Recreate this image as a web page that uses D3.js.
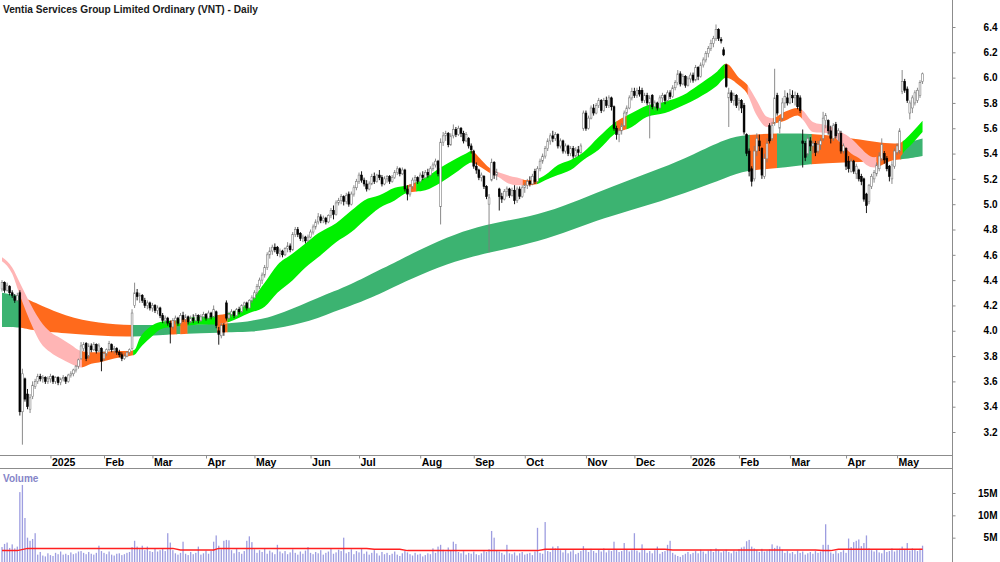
<!DOCTYPE html>
<html lang="en">
<head>
  <meta charset="UTF-8">
  <title>VNT - Daily</title>
  <script src="https://d3js.org/d3.v7.min.js"></script>
  <style>
    body { margin: 0; background: #fff; }
    svg { display: block; }
  </style>
</head>
<body>
  <div class="canvas"></div>
  <script>
    // daily bars, Dec 2024 -> May 2026 (one value per trading day)
    const opens = [
      4.33,4.38,4.32,4.35,4.30,4.27,4.24,4.30,3.36,3.62,
      3.50,3.38,3.48,3.56,3.60,3.64,3.62,3.63,3.60,3.62,
      3.64,3.60,3.63,3.59,3.62,3.63,3.60,3.65,3.66,3.69,
      3.72,3.78,3.86,3.90,3.80,3.88,3.85,3.89,3.84,3.86,
      3.78,3.82,3.85,3.89,3.85,3.86,3.83,3.81,3.78,3.80,
      3.83,3.86,4.20,4.30,4.27,4.28,4.24,4.20,4.22,4.18,
      4.20,4.16,4.18,4.12,4.08,4.10,4.06,4.03,4.08,4.10,
      4.06,4.12,4.09,4.11,4.07,4.10,4.08,4.12,4.08,4.11,
      4.13,4.10,4.14,4.11,4.15,4.00,3.96,4.04,4.22,4.10,
      4.13,4.15,4.12,4.17,4.15,4.20,4.22,4.18,4.24,4.26,
      4.30,4.35,4.40,4.44,4.50,4.60,4.63,4.66,4.66,4.61,
      4.63,4.60,4.65,4.67,4.64,4.76,4.80,4.77,4.73,4.74,
      4.71,4.74,4.78,4.82,4.86,4.90,4.87,4.89,4.86,4.91,
      4.95,4.92,5.01,5.03,5.06,5.02,5.08,5.00,5.08,5.13,
      5.18,5.23,5.19,5.16,5.12,5.16,5.22,5.18,5.23,5.21,
      5.16,5.20,5.22,5.18,5.21,5.25,5.28,5.24,5.27,5.12,
      5.08,5.14,5.19,5.21,5.18,5.23,5.21,5.25,5.23,5.28,
      5.31,5.34,4.98,5.49,5.54,5.56,5.47,5.54,5.59,5.55,
      5.60,5.56,5.50,5.52,5.46,5.42,5.30,5.27,5.21,5.22,
      5.14,5.00,5.19,5.33,5.23,5.12,5.06,5.04,5.10,5.12,
      5.07,5.11,5.03,5.12,5.06,5.13,5.15,5.18,5.16,5.26,
      5.18,5.28,5.34,5.38,5.44,5.50,5.54,5.52,5.55,5.46,
      5.50,5.42,5.46,5.40,5.44,5.38,5.43,5.41,5.60,5.72,
      5.60,5.68,5.76,5.72,5.78,5.82,5.74,5.82,5.78,5.84,
      5.77,5.60,5.55,5.58,5.62,5.72,5.76,5.84,5.89,5.86,
      5.90,5.90,5.82,5.86,5.80,5.86,5.77,5.80,5.76,5.84,
      5.86,5.82,5.88,5.85,5.92,5.96,6.03,5.95,6.01,5.94,
      5.99,6.02,5.98,6.08,6.01,6.10,6.14,6.19,6.23,6.27,
      6.31,6.38,6.30,6.22,6.10,5.84,5.88,5.82,5.86,5.80,
      5.82,5.78,5.55,5.42,5.28,5.20,5.42,5.50,5.44,5.22,
      5.36,5.62,5.52,5.64,5.86,5.60,5.68,5.80,5.84,5.80,
      5.86,5.84,5.86,5.84,5.50,5.48,5.40,5.50,5.46,5.48,
      5.42,5.47,5.52,5.66,5.66,5.58,5.52,5.63,5.56,5.56,
      5.42,5.44,5.34,5.26,5.34,5.24,5.27,5.22,5.20,5.08,
      5.02,5.14,5.20,5.24,5.28,5.36,5.40,5.36,5.30,5.20,
      5.30,5.41,5.42,5.89,5.97,5.91,5.72,5.76,5.80,5.82,
      5.86,5.97
    ];
    const highs = [
      4.40,4.39,4.38,4.36,4.32,4.29,4.30,4.32,3.70,3.63,
      3.54,3.50,3.60,3.62,3.66,3.66,3.65,3.64,3.64,3.66,
      3.65,3.64,3.64,3.63,3.65,3.64,3.66,3.68,3.70,3.73,
      3.78,3.91,3.91,3.91,3.90,3.90,3.91,3.90,3.90,3.87,
      3.84,3.86,3.92,3.90,3.88,3.87,3.85,3.83,3.82,3.84,
      3.86,4.17,4.38,4.33,4.30,4.29,4.26,4.24,4.23,4.22,
      4.21,4.20,4.19,4.14,4.12,4.11,4.08,4.10,4.12,4.11,
      4.14,4.15,4.13,4.12,4.12,4.13,4.14,4.13,4.13,4.15,
      4.14,4.16,4.15,4.20,4.16,4.03,4.06,4.06,4.24,4.15,
      4.17,4.16,4.18,4.19,4.21,4.23,4.23,4.25,4.28,4.32,
      4.37,4.42,4.46,4.52,4.62,4.66,4.68,4.69,4.67,4.65,
      4.64,4.66,4.70,4.69,4.78,4.82,4.82,4.78,4.76,4.75,
      4.76,4.80,4.84,4.88,4.93,4.92,4.91,4.90,4.92,4.97,
      4.99,5.03,5.05,5.08,5.07,5.09,5.10,5.10,5.15,5.20,
      5.25,5.26,5.21,5.19,5.18,5.24,5.25,5.24,5.27,5.23,
      5.22,5.23,5.23,5.23,5.27,5.30,5.29,5.29,5.28,5.15,
      5.16,5.21,5.23,5.22,5.25,5.26,5.27,5.28,5.30,5.33,
      5.36,5.35,5.52,5.57,5.58,5.57,5.56,5.63,5.61,5.62,
      5.61,5.58,5.57,5.53,5.48,5.43,5.33,5.28,5.25,5.23,
      5.15,5.08,5.36,5.34,5.28,5.13,5.09,5.12,5.14,5.13,
      5.13,5.15,5.14,5.14,5.15,5.17,5.20,5.22,5.24,5.28,
      5.30,5.36,5.40,5.46,5.52,5.56,5.58,5.57,5.56,5.52,
      5.51,5.48,5.47,5.46,5.46,5.45,5.46,5.48,5.74,5.74,
      5.70,5.78,5.79,5.80,5.84,5.83,5.84,5.85,5.86,5.85,
      5.78,5.62,5.60,5.64,5.74,5.78,5.86,5.92,5.92,5.92,
      5.93,5.92,5.88,5.88,5.86,5.87,5.82,5.81,5.86,5.88,
      5.87,5.90,5.90,5.94,5.98,6.06,6.05,6.03,6.02,6.01,
      6.04,6.04,6.10,6.09,6.12,6.16,6.21,6.25,6.30,6.33,
      6.42,6.39,6.32,6.24,6.11,5.92,5.90,5.88,5.87,5.84,
      5.83,5.80,5.56,5.44,5.30,5.46,5.56,5.55,5.45,5.40,
      5.52,5.64,5.65,6.07,5.88,5.68,5.84,5.90,5.88,5.91,
      5.90,5.89,5.88,5.86,5.59,5.50,5.55,5.53,5.50,5.50,
      5.50,5.52,5.73,5.72,5.67,5.62,5.64,5.65,5.60,5.58,
      5.48,5.45,5.38,5.36,5.35,5.32,5.28,5.24,5.21,5.09,
      5.16,5.24,5.27,5.33,5.41,5.52,5.42,5.38,5.31,5.34,
      5.44,5.48,5.60,6.06,5.99,5.93,5.82,5.86,5.90,5.92,
      5.98,6.04
    ];
    const lows = [
      4.31,4.30,4.31,4.28,4.26,4.22,4.23,3.33,3.10,3.44,
      3.38,3.35,3.46,3.54,3.58,3.60,3.59,3.58,3.58,3.59,
      3.58,3.58,3.57,3.57,3.60,3.58,3.59,3.63,3.64,3.67,
      3.70,3.77,3.84,3.76,3.78,3.83,3.84,3.82,3.83,3.68,
      3.76,3.80,3.84,3.83,3.82,3.81,3.79,3.76,3.77,3.79,
      3.81,3.85,4.18,4.24,4.22,4.22,4.18,4.17,4.16,4.15,
      4.14,4.13,4.10,4.06,4.05,4.04,3.90,4.01,4.05,4.04,
      4.05,4.07,4.07,4.05,4.06,4.06,4.07,4.06,4.07,4.09,
      4.08,4.09,4.09,4.10,4.02,3.89,3.94,3.96,4.08,4.08,
      4.11,4.10,4.11,4.13,4.14,4.17,4.16,4.17,4.22,4.25,
      4.28,4.33,4.37,4.42,4.48,4.57,4.60,4.62,4.59,4.58,
      4.58,4.59,4.62,4.62,4.63,4.74,4.74,4.71,4.70,4.69,
      4.70,4.73,4.76,4.80,4.84,4.85,4.85,4.84,4.85,4.89,
      4.88,4.91,4.99,5.00,4.99,5.00,4.98,4.99,5.06,5.11,
      5.16,5.17,5.14,5.10,5.11,5.15,5.16,5.17,5.19,5.14,
      5.15,5.17,5.16,5.17,5.20,5.23,5.22,5.23,5.10,5.03,
      5.06,5.12,5.16,5.16,5.17,5.19,5.20,5.21,5.22,5.26,
      5.29,5.22,4.84,5.46,5.50,5.45,5.46,5.52,5.53,5.54,
      5.53,5.48,5.49,5.44,5.40,5.28,5.24,5.19,5.18,5.12,
      5.04,4.62,5.18,5.20,5.19,4.95,5.01,5.03,5.06,5.05,
      5.06,5.00,5.01,5.04,5.05,5.09,5.12,5.14,5.15,5.16,
      5.17,5.26,5.32,5.36,5.42,5.47,5.49,5.50,5.44,5.44,
      5.40,5.40,5.38,5.38,5.36,5.37,5.38,5.40,5.58,5.58,
      5.59,5.67,5.70,5.71,5.76,5.72,5.73,5.76,5.76,5.74,
      5.58,5.51,5.49,5.55,5.61,5.70,5.75,5.82,5.84,5.84,
      5.85,5.80,5.80,5.78,5.52,5.75,5.74,5.74,5.75,5.80,
      5.79,5.81,5.83,5.84,5.90,5.94,5.93,5.94,5.92,5.93,
      5.96,5.96,5.97,5.98,6.00,6.08,6.12,6.16,6.21,6.24,
      6.29,6.29,6.27,6.17,5.92,5.61,5.80,5.78,5.76,5.74,
      5.72,5.55,5.38,5.22,5.14,5.18,5.38,5.42,5.20,5.20,
      5.33,5.48,5.50,5.62,5.70,5.56,5.66,5.76,5.78,5.79,
      5.80,5.78,5.75,5.72,5.29,5.34,5.38,5.42,5.40,5.38,
      5.40,5.43,5.50,5.60,5.55,5.48,5.50,5.52,5.50,5.40,
      5.40,5.27,5.25,5.25,5.24,5.20,5.18,5.15,5.02,4.93,
      5.00,5.12,5.17,5.22,5.26,5.34,5.32,5.26,5.18,5.16,
      5.28,5.39,5.40,5.87,5.88,5.80,5.67,5.72,5.78,5.80,
      5.84,5.95
    ];
    const closes = [
      4.38,4.32,4.36,4.30,4.28,4.24,4.28,3.36,3.66,3.46,
      3.40,3.47,3.57,3.60,3.64,3.62,3.63,3.60,3.62,3.64,
      3.60,3.63,3.59,3.62,3.63,3.60,3.65,3.66,3.69,3.72,
      3.77,3.88,3.89,3.78,3.88,3.85,3.89,3.84,3.88,3.76,
      3.82,3.85,3.90,3.85,3.86,3.83,3.81,3.78,3.80,3.83,
      3.85,4.14,4.30,4.27,4.28,4.24,4.20,4.22,4.18,4.20,
      4.16,4.18,4.12,4.08,4.10,4.06,4.03,4.08,4.10,4.06,
      4.12,4.09,4.11,4.07,4.10,4.08,4.12,4.08,4.11,4.13,
      4.10,4.14,4.11,4.17,4.04,3.97,4.04,3.99,4.10,4.13,
      4.15,4.12,4.17,4.15,4.20,4.22,4.18,4.24,4.26,4.30,
      4.35,4.40,4.44,4.50,4.60,4.63,4.66,4.64,4.61,4.63,
      4.60,4.65,4.67,4.64,4.76,4.80,4.76,4.73,4.74,4.71,
      4.74,4.78,4.82,4.86,4.90,4.87,4.89,4.86,4.91,4.95,
      4.92,5.01,5.03,5.06,5.02,5.07,5.00,5.08,5.13,5.18,
      5.23,5.19,5.16,5.12,5.16,5.22,5.18,5.23,5.21,5.16,
      5.20,5.22,5.18,5.21,5.25,5.28,5.24,5.27,5.12,5.08,
      5.14,5.19,5.21,5.18,5.23,5.21,5.25,5.23,5.28,5.31,
      5.34,5.24,5.49,5.54,5.56,5.47,5.54,5.59,5.55,5.60,
      5.56,5.50,5.55,5.46,5.43,5.30,5.27,5.21,5.23,5.14,
      5.06,5.05,5.33,5.23,5.25,5.06,5.04,5.10,5.12,5.07,
      5.11,5.03,5.12,5.06,5.13,5.15,5.18,5.16,5.22,5.18,
      5.28,5.34,5.38,5.44,5.50,5.54,5.52,5.55,5.46,5.50,
      5.42,5.46,5.40,5.44,5.38,5.43,5.41,5.46,5.72,5.60,
      5.68,5.76,5.72,5.78,5.82,5.74,5.82,5.78,5.84,5.77,
      5.60,5.55,5.58,5.62,5.72,5.76,5.84,5.89,5.86,5.90,
      5.87,5.82,5.86,5.80,5.84,5.77,5.80,5.76,5.84,5.86,
      5.82,5.88,5.85,5.92,5.96,6.03,5.95,6.01,5.94,5.99,
      6.02,5.98,6.08,6.01,6.10,6.14,6.19,6.23,6.27,6.31,
      6.38,6.31,6.29,6.18,5.93,5.88,5.82,5.86,5.78,5.82,
      5.76,5.57,5.40,5.26,5.18,5.42,5.52,5.46,5.23,5.36,
      5.48,5.50,5.62,5.84,5.72,5.66,5.80,5.85,5.80,5.87,
      5.84,5.86,5.77,5.74,5.48,5.37,5.52,5.46,5.48,5.41,
      5.47,5.50,5.68,5.70,5.58,5.52,5.62,5.54,5.58,5.42,
      5.46,5.30,5.28,5.34,5.26,5.30,5.20,5.18,5.04,4.99,
      5.15,5.22,5.25,5.31,5.38,5.47,5.35,5.28,5.22,5.31,
      5.42,5.46,5.58,5.97,5.90,5.82,5.80,5.84,5.88,5.90,
      5.96,6.03
    ];
    // volume in millions
    const volumes = [
      2.9,3.6,3.9,2.7,3.5,2.6,3.0,15.2,16.8,9.4,
      5.0,4.3,4.7,6.0,1.2,1.8,1.0,0.8,1.5,1.1,
      0.9,1.6,1.3,1.9,1.2,1.4,1.1,1.7,1.3,1.5,
      1.9,2.0,1.6,1.3,1.8,1.4,1.2,1.6,3.2,2.0,
      1.6,1.3,1.9,1.2,1.0,1.4,1.5,1.1,1.3,1.6,
      1.8,2.9,4.3,3.0,2.4,3.2,2.2,3.0,2.0,1.8,
      2.6,1.9,2.2,2.5,2.0,6.0,3.9,2.2,1.5,1.2,
      1.6,4.1,1.4,1.1,1.8,1.3,1.6,3.0,1.2,1.5,
      2.1,1.4,2.0,4.1,5.5,3.2,2.4,4.3,4.5,4.4,
      2.2,1.5,2.6,1.8,1.4,2.0,4.3,5.3,4.0,2.4,
      1.6,2.2,1.8,2.5,1.4,2.1,1.7,1.3,3.4,1.9,
      1.5,2.0,1.3,1.7,2.4,1.6,1.2,1.9,1.4,2.1,
      2.9,1.6,1.3,1.8,1.5,2.2,1.2,1.6,1.9,2.6,
      1.4,1.7,2.3,2.0,5.0,1.5,1.8,2.4,1.3,2.0,
      1.7,2.5,1.4,1.9,1.2,1.6,2.2,1.5,1.0,1.8,
      1.3,1.6,1.1,1.4,1.9,1.2,0.9,1.5,2.1,1.7,
      1.3,1.0,1.6,1.2,1.4,0.8,1.1,1.5,1.3,2.6,
      1.6,3.0,3.4,2.3,1.9,2.8,2.2,4.1,3.6,1.8,
      1.5,2.0,1.2,1.6,1.4,1.9,1.3,1.1,1.5,2.0,
      1.8,2.4,6.5,5.0,2.2,1.9,1.6,1.2,3.4,1.5,
      1.3,1.7,1.0,1.5,1.8,1.2,1.4,1.6,1.1,1.9,
      7.2,1.6,1.4,8.5,2.0,1.8,3.0,2.6,3.1,2.2,
      1.7,2.4,1.5,1.9,2.2,1.3,1.6,2.0,3.1,2.4,
      1.8,2.5,2.0,1.6,2.3,1.9,2.6,1.7,2.2,2.0,
      4.1,2.3,1.8,2.0,3.8,2.4,1.9,2.2,6.0,2.1,
      1.7,3.5,2.4,1.6,2.0,1.5,2.2,3.0,1.4,1.8,
      2.0,3.4,4.3,1.6,1.2,0.9,0.7,1.1,1.4,1.8,
      1.3,1.6,2.0,1.5,2.3,1.9,1.4,2.1,2.4,1.8,
      2.6,2.2,1.7,2.0,2.3,1.8,1.5,2.1,1.9,2.4,
      2.8,3.0,4.2,4.5,3.0,2.6,2.2,1.8,2.5,1.9,
      2.1,2.4,3.5,2.7,3.2,3.0,2.3,1.6,2.0,1.5,
      1.8,1.3,2.1,1.6,1.9,1.2,1.5,1.8,1.4,2.0,
      1.6,1.9,3.4,8.0,3.4,1.7,1.4,2.0,1.5,1.8,
      2.2,1.6,4.8,2.9,4.0,4.3,4.6,3.1,3.8,5.5,
      2.6,2.2,1.9,2.4,1.7,1.5,2.3,1.8,2.0,2.6,
      1.9,2.2,2.5,3.0,2.4,3.8,2.1,2.6,2.3,2.0,
      2.5,3.2
    ];

    // short-term ribbon edges, read at these bar numbers
    const shortIdx = [0, 4, 7, 12, 15, 19, 23, 27, 31, 35, 38, 44, 50, 52, 54, 58, 62, 66, 72, 78,
      83, 89, 97, 103, 108, 114, 119, 124, 131, 137, 142, 148, 154, 159, 166, 172, 178, 182, 184, 188,
      191, 195, 198, 202, 206, 210, 213, 218, 223, 228, 234, 240, 247, 253, 260, 267, 273, 280, 284, 289,
      292, 296, 300, 302, 307, 312, 314, 318, 324, 329, 333, 337, 339, 342, 344, 347, 352, 354, 357, 361];
    const shortTop = [4.58, 4.50, 4.38, 4.18, 4.08, 3.99, 3.94, 3.89, 3.84, 3.83, 3.83, 3.84, 3.84, 3.85, 3.94, 4.03, 4.07, 4.08, 4.10, 4.11,
      4.12, 4.14, 4.23, 4.38, 4.52, 4.61, 4.69, 4.77, 4.85, 4.95, 5.03, 5.07, 5.13, 5.15, 5.21, 5.29, 5.36, 5.40, 5.42, 5.35,
      5.29, 5.25, 5.23, 5.21, 5.19, 5.20, 5.23, 5.31, 5.35, 5.41, 5.53, 5.64, 5.72, 5.78, 5.81, 5.86, 5.94, 6.04, 6.11, 6.00,
      5.95, 5.82, 5.69, 5.68, 5.73, 5.76, 5.74, 5.65, 5.62, 5.57, 5.52, 5.44, 5.40, 5.37, 5.38, 5.41, 5.48, 5.51, 5.57, 5.66];
    const shortBot = [4.55, 4.45, 4.28, 4.03, 3.91, 3.83, 3.78, 3.74, 3.71, 3.74, 3.75, 3.78, 3.80, 3.81, 3.86, 3.94, 4.01, 4.03, 4.04, 4.05,
      4.05, 4.07, 4.14, 4.19, 4.30, 4.40, 4.50, 4.58, 4.70, 4.78, 4.87, 4.97, 5.03, 5.09, 5.11, 5.17, 5.25, 5.31, 5.33, 5.29,
      5.25, 5.21, 5.17, 5.15, 5.15, 5.16, 5.19, 5.23, 5.27, 5.35, 5.43, 5.55, 5.61, 5.69, 5.72, 5.78, 5.84, 5.93, 6.00, 5.94,
      5.88, 5.70, 5.61, 5.63, 5.66, 5.70, 5.67, 5.57, 5.56, 5.48, 5.40, 5.35, 5.31, 5.29, 5.30, 5.33, 5.37, 5.42, 5.48, 5.57];
    const shortStates = [
      [0, 31.4, 'down'], [31.4, 51.5, 'weak'], [51.5, 66, 'up'], [66, 68.5, 'weak'], [68.5, 70, 'up'],
      [70, 72.8, 'weak'], [72.8, 84.5, 'up'], [84.5, 88.5, 'weak'], [88.5, 159, 'up'], [159, 162.5, 'weak'],
      [162.5, 184.3, 'up'], [184.3, 191.4, 'weak'], [191.4, 204.3, 'down'], [204.3, 209.8, 'weak'], [209.8, 241, 'up'],
      [241, 245, 'weak'], [245, 283.5, 'up'], [283.5, 292.5, 'weak'], [292.5, 302.4, 'down'], [302.4, 313.7, 'weak'],
      [313.7, 343, 'down'], [343, 353.3, 'weak'], [353.3, 362, 'up']
    ];

    // long-term ribbon edges
    const longIdx = [0, 7, 12, 25, 38, 51, 65, 78, 91, 98, 104, 111, 117, 124, 130, 137, 142, 148, 155, 168,
      181, 192, 207, 220, 233, 246, 258, 271, 284, 292, 304, 317, 330, 343, 352, 361];
    const longTop = [4.30, 4.28, 4.23, 4.11, 4.06, 4.04, 4.05, 4.05, 4.06, 4.08, 4.10, 4.15, 4.20, 4.26, 4.31, 4.37, 4.42, 4.48, 4.55, 4.68,
      4.79, 4.85, 4.90, 4.98, 5.09, 5.19, 5.28, 5.39, 5.52, 5.55, 5.56, 5.56, 5.53, 5.49, 5.47, 5.52];
    const longBot = [4.03, 4.03, 4.00, 3.98, 3.96, 3.95, 3.97, 3.98, 3.99, 3.99, 4.01, 4.03, 4.06, 4.10, 4.15, 4.20, 4.24, 4.29, 4.36, 4.48,
      4.57, 4.62, 4.69, 4.77, 4.87, 4.95, 5.02, 5.11, 5.21, 5.27, 5.28, 5.32, 5.33, 5.34, 5.35, 5.38];
    const longStates = [
      [0, 7, 'up'], [7, 51.4, 'weak'], [51.4, 66, 'up'], [66, 68.5, 'weak'], [68.5, 70, 'up'],
      [70, 72.8, 'weak'], [72.8, 84.5, 'up'], [84.5, 88.5, 'weak'], [88.5, 293.3, 'up'], [293.3, 304, 'weak'],
      [304, 317.6, 'up'], [317.6, 352.5, 'weak'], [352.5, 362, 'up']
    ];

    // volume average (millions)
    const volMaIdx = [0, 6, 10, 67, 70, 83, 85, 143, 146, 156, 159, 210, 213, 260, 263, 319, 322, 325, 328, 361];
    const volMaVal = [2.1, 2.1, 2.6, 2.6, 2.25, 2.25, 2.6, 2.6, 2.4, 2.4, 2.1, 2.1, 2.4, 2.4, 2.25, 2.25, 2.1, 2.1, 2.4, 2.4];

    const monthIdx = [19, 40, 59, 80, 99, 121, 140, 164, 185, 205, 229, 248, 270, 289, 309, 331, 351];
    const monthLabels = ['2025', 'Feb', 'Mar', 'Apr', 'May', 'Jun', 'Jul', 'Aug', 'Sep', 'Oct', 'Nov', 'Dec', '2026', 'Feb', 'Mar', 'Apr', 'May'];
    const priceTicks = [3.2, 3.4, 3.6, 3.8, 4.0, 4.2, 4.4, 4.6, 4.8, 5.0, 5.2, 5.4, 5.6, 5.8, 6.0, 6.2, 6.4];
    const volTicks = [5, 10, 15];

    const width = 1000;
    const height = 562;
    const plotRight = 952;
    const priceBottom = 455;
    const volTop = 468;
    const font = "'Liberation Sans', Arial, sans-serif";

    const svg = d3.select('.canvas')
      .append('svg')
      .attr('width', width)
      .attr('height', height)
      .style('font-family', font);
    const defs = svg.append('defs');

    const n = closes.length;
    const x = d3.scaleLinear().domain([0, n - 1]).range([2, 2 + 2.55 * (n - 1)]);
    const y = d3.scaleLinear().domain([3.2, 6.4]).range([432, 27]);
    const yVol = d3.scaleLinear().domain([0, 15]).range([560, 493]);

    const graph = svg.append('g');

    // ribbons
    const shortColors = { up: '#00f000', weak: '#ff6a1c', down: '#ffb5b5' };
    const longColors = { up: '#3cb371', weak: '#ff6a1c' };

    function drawBand(idx, top, bot, states, colors, key, curve) {
      const pts = idx.map((d, k) => ({ i: d, t: top[k], b: bot[k] }));
      const area = d3.area()
        .x(d => x(d.i))
        .y0(d => y(d.b))
        .y1(d => y(d.t))
        .curve(curve);
      states.forEach((s, k) => {
        const id = key + k;
        const x0 = k === 0 ? 0 : x(s[0]);
        const x1 = k === states.length - 1 ? plotRight : x(s[1]);
        defs.append('clipPath').attr('id', id)
          .append('rect')
          .attr('x', x0 - 0.2)
          .attr('y', 0)
          .attr('width', x1 - x0 + 0.4)
          .attr('height', priceBottom);
        graph.append('path')
          .datum(pts)
          .attr('d', area)
          .attr('fill', colors[s[2]])
          .attr('clip-path', `url(#${id})`);
      });
    }
    drawBand(longIdx, longTop, longBot, longStates, longColors, 'lc', d3.curveBasis);
    drawBand(shortIdx, shortTop, shortBot, shortStates, shortColors, 'sc', d3.curveMonotoneX);

    // candles
    const bars = closes.map((c, i) => ({ i, o: opens[i], h: highs[i], l: lows[i], c, v: volumes[i] }));
    const up = d => d.c >= d.o;

    const candle = graph.selectAll('.candle')
      .data(bars)
      .enter()
      .append('g')
      .attr('class', 'candle');
    candle.append('line')
      .attr('x1', d => x(d.i))
      .attr('x2', d => x(d.i))
      .attr('y1', d => y(d.h))
      .attr('y2', d => y(d.l))
      .attr('stroke', d => up(d) ? '#7d7d7d' : '#000')
      .attr('stroke-width', 0.9);
    candle.append('rect')
      .attr('x', d => x(d.i) - 0.9)
      .attr('width', 1.8)
      .attr('y', d => y(Math.max(d.o, d.c)))
      .attr('height', d => Math.max(0.8, Math.abs(y(d.o) - y(d.c))))
      .attr('fill', d => up(d) ? '#fff' : '#000')
      .attr('stroke', d => up(d) ? '#7d7d7d' : '#000')
      .attr('stroke-width', 0.6);

    // volume pane
    svg.selectAll('.vol')
      .data(bars)
      .enter()
      .append('rect')
      .attr('class', 'vol')
      .attr('x', d => x(d.i) - 0.65)
      .attr('width', 1.3)
      .attr('y', d => yVol(d.v))
      .attr('height', d => height - yVol(d.v))
      .attr('fill', '#9d9de0');

    const volLine = d3.line()
      .x(d => x(d[0]))
      .y(d => yVol(d[1]));
    svg.append('path')
      .datum(volMaIdx.map((d, k) => [d, volMaVal[k]]))
      .attr('d', volLine)
      .attr('fill', 'none')
      .attr('stroke', '#ff2020')
      .attr('stroke-width', 1.5);

    svg.append('text')
      .attr('x', 3)
      .attr('y', 482)
      .attr('font-size', 10)
      .attr('font-weight', 'bold')
      .attr('fill', '#8585c8')
      .text('Volume');

    // frame lines
    svg.append('line').attr('x1', 0).attr('x2', plotRight).attr('y1', priceBottom + 0.5).attr('y2', priceBottom + 0.5).attr('stroke', '#8c8c8c');
    svg.append('line').attr('x1', 0).attr('x2', plotRight).attr('y1', volTop + 0.5).attr('y2', volTop + 0.5).attr('stroke', '#8c8c8c');
    svg.append('line').attr('x1', plotRight + 0.5).attr('x2', plotRight + 0.5).attr('y1', 0).attr('y2', height).attr('stroke', '#8c8c8c');

    // axes
    const yAxis = d3.axisRight(y).tickValues(priceTicks).tickSize(3).tickFormat(d3.format('.1f'));
    const yAxisG = svg.append('g')
      .attr('transform', `translate(${plotRight + 0.5},0)`)
      .call(yAxis);
    const volAxis = d3.axisRight(yVol).tickValues(volTicks).tickSize(3).tickFormat(d => d + 'M');
    const volAxisG = svg.append('g')
      .attr('transform', `translate(${plotRight + 0.5},0)`)
      .call(volAxis);
    [yAxisG, volAxisG].forEach(a => {
      a.select('.domain').remove();
      a.attr('font-family', font).attr('font-size', 10).attr('font-weight', 'bold');
      a.selectAll('line').attr('stroke', '#8c8c8c');
      a.selectAll('text').attr('x', 45).attr('text-anchor', 'end').attr('fill', '#000');
    });

    const xAxis = d3.axisBottom(x).tickValues(monthIdx).tickSize(3).tickFormat((d, k) => monthLabels[k]);
    const xAxisG = svg.append('g')
      .attr('transform', `translate(0,${priceBottom + 0.5})`)
      .call(xAxis);
    xAxisG.select('.domain').remove();
    xAxisG.attr('font-family', font).attr('font-size', 10.5).attr('font-weight', 'bold');
    xAxisG.selectAll('line').attr('stroke', '#8c8c8c');
    xAxisG.selectAll('text')
      .attr('text-anchor', 'start')
      .attr('x', 1)
      .attr('y', 3.5)
      .attr('fill', '#000');

    // title
    svg.append('text')
      .attr('x', 3)
      .attr('y', 13)
      .attr('font-size', 11.5)
      .attr('font-weight', 'bold')
      .attr('fill', '#1a1a1a')
      .attr('textLength', 255)
      .attr('lengthAdjust', 'spacingAndGlyphs')
      .text('Ventia Services Group Limited Ordinary (VNT) - Daily');
  </script>
</body>
</html>
